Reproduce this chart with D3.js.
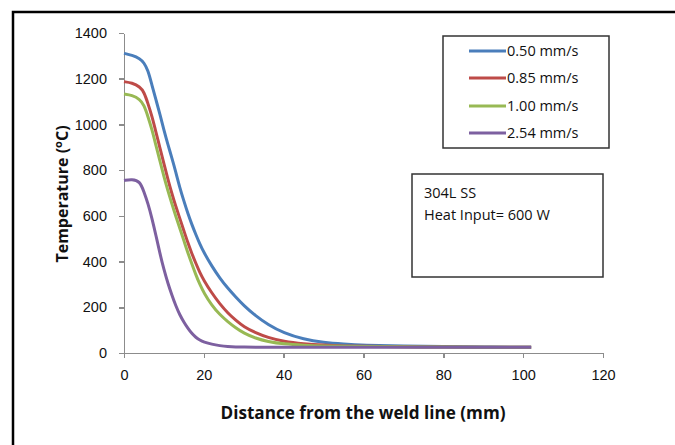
<!doctype html>
<html>
<head>
<meta charset="utf-8">
<title>Temperature vs distance</title>
<script src="https://d3js.org/d3.v7.min.js"></script>
<style>
  body { margin: 0; background: #fff; }
  svg { display: block; font-family: "Open Sans", Lato, sans-serif; }
  .axis path, .axis line { stroke: #8c8c8c; stroke-width: 1.5px; shape-rendering: crispEdges; }
  .axis text { fill: #111; font-size: 14.5px; }
</style>
</head>
<body>
<script>
// distance from weld line (mm)
var distance = [0, 2, 4, 5, 6, 7, 8, 9, 10, 11, 12, 13, 14, 15, 16, 17, 18, 19, 20,
                22, 24, 26, 28, 30, 33, 36, 40, 45, 50, 55, 60, 70, 80, 90, 102];

// peak temperature (C) per travel speed
var t050 = [1311, 1303, 1288, 1270, 1238, 1172, 1108, 1045, 975, 912, 853, 790, 722, 665, 610, 562, 518, 477, 440,
            380, 328, 283, 245, 208, 162, 125, 87, 60, 46, 39, 34, 30, 28, 26, 25];
var t085 = [1187, 1182, 1165, 1142, 1092, 1036, 967, 897, 828, 760, 697, 640, 588, 535, 482, 435, 392, 352, 318,
            262, 215, 175, 143, 115, 88, 68, 50, 40, 34, 31, 29, 27, 26, 25, 25];
var t100 = [1133, 1128, 1110, 1085, 1035, 978, 908, 840, 772, 710, 652, 597, 545, 492, 438, 390, 342, 300, 264,
            208, 168, 137, 110, 87, 64, 50, 39, 34, 31, 29, 28, 27, 26, 25, 25];
var t254 = [755, 760, 752, 705, 655, 590, 515, 435, 365, 305, 253, 205, 166, 135, 108, 85, 68, 56, 48,
            38, 32, 28, 26, 26, 25, 25, 25, 25, 25, 25, 25, 25, 25, 25, 25];

var seriesNames = ["0.50 mm/s", "0.85 mm/s", "1.00 mm/s", "2.54 mm/s"];
var seriesColors = ["#4a7ebb", "#be4b48", "#98b954", "#7d60a0"];
var seriesValues = [t050, t085, t100, t254];

var xTicks = [0, 20, 40, 60, 80, 100, 120];
var yTicks = [0, 200, 400, 600, 800, 1000, 1200, 1400];

var noteLines = ["304L SS", "Heat Input= 600 W"];

var width = 675, height = 445;
var svg = d3.select("body").append("svg").attr("width", width).attr("height", height);

// outer frame (right / bottom edges fall outside the picture)
svg.append("rect").attr("x", 13).attr("y", 12).attr("width", 720).attr("height", 520)
  .attr("fill", "none").attr("stroke", "#000").attr("stroke-width", 2.5);

var x = d3.scaleLinear().domain([0, 120]).range([124, 603]);
var y = d3.scaleLinear().domain([0, 1400]).range([353, 33]);

svg.append("g").attr("class", "axis")
  .attr("transform", "translate(0," + y(0) + ")")
  .call(d3.axisBottom(x).tickValues(xTicks).tickFormat(d3.format("d")).tickSize(5).tickPadding(12).tickSizeOuter(0))
  .selectAll("text").attr("dy", "0.71em");

svg.append("g").attr("class", "axis")
  .attr("transform", "translate(" + x(0) + ",0)")
  .call(d3.axisLeft(y).tickValues(yTicks).tickFormat(d3.format("d")).tickSize(5).tickPadding(12).tickSizeOuter(0));

// curves
var line = d3.line()
  .x(function(d) { return x(d[0]); })
  .y(function(d) { return y(d[1]); })
  .curve(d3.curveBasis);

seriesValues.forEach(function(vals, i) {
  svg.append("path")
    .datum(distance.map(function(dx, j) { return [dx, vals[j]]; }))
    .attr("fill", "none")
    .attr("stroke", seriesColors[i])
    .attr("stroke-width", 3)
    .attr("stroke-linejoin", "round")
    .attr("d", line);
});

// axis titles
svg.append("text")
  .attr("x", 363).attr("y", 419)
  .attr("text-anchor", "middle")
  .attr("font-size", 17).attr("font-weight", "bold").attr("fill", "#111")
  .attr("textLength", 285).attr("lengthAdjust", "spacingAndGlyphs")
  .text("Distance from the weld line (mm)");

var yt = svg.append("text")
  .attr("transform", "translate(68,194) rotate(-90)")
  .attr("text-anchor", "middle")
  .attr("font-size", 16).attr("font-weight", "bold").attr("fill", "#111");
yt.append("tspan").text("Temperature (");
yt.append("tspan").attr("dy", -6).attr("font-size", 11).text("o");
yt.append("tspan").attr("dy", 6).text("C)");

// legend
var legend = svg.append("g");
legend.append("rect").attr("x", 443).attr("y", 36).attr("width", 166).attr("height", 112)
  .attr("fill", "#fff").attr("stroke", "#333").attr("stroke-width", 1.5);
var legendY = [51, 78, 106, 133];
seriesNames.forEach(function(name, i) {
  legend.append("line")
    .attr("x1", 469).attr("x2", 506).attr("y1", legendY[i]).attr("y2", legendY[i])
    .attr("stroke", seriesColors[i]).attr("stroke-width", 3);
  legend.append("text")
    .attr("x", 507).attr("y", legendY[i]).attr("dy", "0.35em")
    .attr("font-size", 14.5).attr("fill", "#111")
    .text(name);
});

// note box
svg.append("rect").attr("x", 412).attr("y", 174).attr("width", 191).attr("height", 103)
  .attr("fill", "#fff").attr("stroke", "#333").attr("stroke-width", 1.5);
noteLines.forEach(function(t, i) {
  svg.append("text")
    .attr("x", 424).attr("y", 193 + i * 22).attr("dy", "0.35em")
    .attr("font-size", 14.5).attr("fill", "#111")
    .text(t);
});
</script>
</body>
</html>
